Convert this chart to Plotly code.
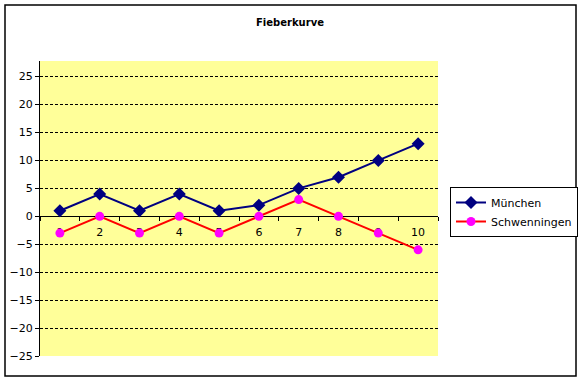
import plotly.graph_objects as go

categories = ["1", "2", "3", "4", "5", "6", "7", "8", "9", "10"]
muenchen = [1, 4, 1, 4, 1, 2, 5, 7, 10, 13]
schwenningen = [-3, 0, -3, 0, -3, 0, 3, 0, -3, -6]
y_ticks = [-25, -20, -15, -10, -5, 0, 5, 10, 15, 20, 25]

FONT = "DejaVu Sans"
W, H = 582, 381
L, R, T, B = 40, 438, 61, 356
ymin, ymax = -25, 27.8

fig = go.Figure()
fig.add_trace(go.Scatter(
    x=categories, y=muenchen, name="München", mode="lines+markers",
    line=dict(color="#000080", width=2),
    marker=dict(symbol="diamond", size=10, color="#000080"),
))
fig.add_trace(go.Scatter(
    x=categories, y=schwenningen, name="Schwenningen", mode="lines+markers",
    line=dict(color="#FF0000", width=2),
    marker=dict(symbol="circle", size=9, color="#FF00FF"),
))

pw = R - L
ph = B - T
fig.update_layout(
    width=W, height=H,
    margin=dict(l=L, r=W - R, t=T, b=H - B, pad=0, autoexpand=False),
    paper_bgcolor="white",
    plot_bgcolor="#FFFF99",
    font=dict(family=FONT, size=11, color="black"),
    title=dict(text="<b>Fieberkurve</b>", x=(290) / W, xanchor="center",
               y=1 - 22 / H, yanchor="middle",
               font=dict(family=FONT, size=10, color="black")),
    showlegend=True,
    legend=dict(x=(450 - L) / pw, y=(B - 187) / ph, xanchor="left", yanchor="top",
                bgcolor="white", bordercolor="black", borderwidth=1,
                font=dict(family=FONT, size=11, color="black"),
                tracegroupgap=2, itemwidth=30),
    xaxis=dict(
        type="category", categoryorder="array", categoryarray=categories,
        range=[-0.5, len(categories) - 0.5], tickson="boundaries",
        showgrid=False, zeroline=False,
        showline=True, linecolor="black", linewidth=1,
        ticks="outside", ticklen=4, tickcolor="black",
        ticklabelstandoff=5,
        anchor="free", position=(0 - ymin) / (ymax - ymin),
        tickfont=dict(family=FONT, size=11, color="black"),
        layer="below traces",
        fixedrange=True,
    ),
    yaxis=dict(
        range=[ymin, ymax], tickvals=y_ticks,
        showgrid=True, gridcolor="black", gridwidth=1, griddash="3px,2px",
        zeroline=False,
        showline=True, linecolor="black", linewidth=1,
        ticks="outside", ticklen=4, tickcolor="black",
        tickfont=dict(family=FONT, size=11, color="black"),
        fixedrange=True,
    ),
    shapes=[dict(type="rect", xref="paper", yref="paper",
                 x0=(5 - L) / pw, x1=(576 - L) / pw,
                 y0=(B - 376) / ph, y1=(B - 5) / ph,
                 line=dict(color="black", width=1.5), layer="above")],
)

fig.write_html("out.html", config={"displayModeBar": False},
               post_script="document.body.style.margin='0';document.body.style.overflow='hidden';")
